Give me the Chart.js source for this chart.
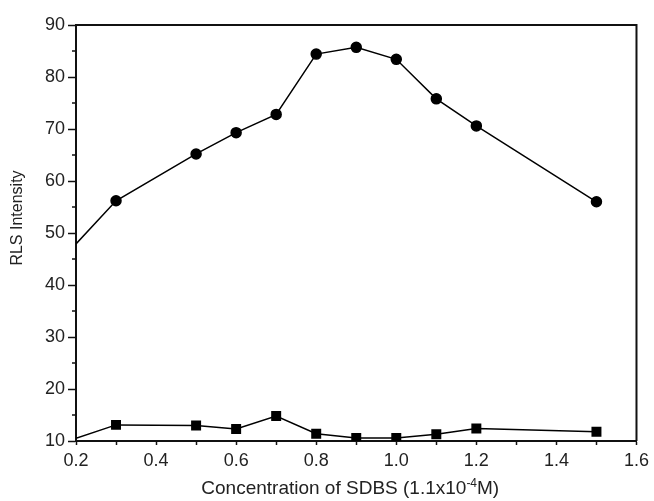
<!DOCTYPE html>
<html>
<head>
<meta charset="utf-8">
<script src="https://cdn.jsdelivr.net/npm/chart.js@4.4.1/dist/chart.umd.min.js"></script>
<style>
  html, body { margin: 0; padding: 0; background: #fff; }
  #c { display: block; }
</style>
</head>
<body>
<canvas id="c" width="654" height="501"></canvas>
<script>
// ---- data ----
const concentrations = [0.2, 0.3, 0.5, 0.6, 0.7, 0.8, 0.9, 1.0, 1.1, 1.2, 1.5];
const withSDBS      = [47.9, 56.2, 65.2, 69.3, 72.8, 84.4, 85.7, 83.4, 75.8, 70.6, 56.0];
const blank         = [10.5, 13.1, 13.0, 12.3, 14.8, 11.4, 10.6, 10.6, 11.3, 12.4, 11.8];
const yTicks = [10, 20, 30, 40, 50, 60, 70, 80, 90];
const xTickLabels = ['0.2', '0.4', '0.6', '0.8', '1.0', '1.2', '1.4', '1.6'];
const xTitleMain = 'Concentration of SDBS (1.1x10';
const xTitleSup = '-4';
const xTitleEnd = 'M)';
const yTitle = 'RLS Intensity';

const FONT = '"Liberation Sans", Arial, Helvetica, sans-serif';
const INK = '#111';

const toXY = (vals) => vals.map((v, i) => ({ x: concentrations[i], y: v }));

const framePlugin = {
  id: 'frame',
  afterDraw(chart) {
    const { ctx, chartArea: a, scales } = chart;
    ctx.save();
    // top and right frame lines
    ctx.strokeStyle = INK;
    ctx.lineWidth = 2;
    ctx.beginPath();
    ctx.moveTo(a.left, a.top);
    ctx.lineTo(a.right, a.top);
    ctx.lineTo(a.right, a.bottom);
    ctx.stroke();
    // minor ticks on y axis (midpoints between major ticks)
    ctx.lineWidth = 1.5;
    ctx.beginPath();
    for (let i = 0; i < yTicks.length - 1; i++) {
      const v = (yTicks[i] + yTicks[i + 1]) / 2;
      const py = scales.y.getPixelForValue(v);
      ctx.moveTo(a.left - 4, py);
      ctx.lineTo(a.left, py);
    }
    ctx.stroke();
    // y title
    ctx.fillStyle = '#222';
    ctx.font = '16px ' + FONT;
    ctx.textAlign = 'center';
    ctx.textBaseline = 'middle';
    ctx.translate(18, 218);
    ctx.rotate(-Math.PI / 2);
    ctx.fillText(yTitle, 0, 0);
    ctx.restore();

    // x title with superscript
    ctx.save();
    ctx.fillStyle = '#222';
    ctx.textBaseline = 'alphabetic';
    ctx.textAlign = 'left';
    const mainFont = '19px ' + FONT, supFont = '12px ' + FONT;
    ctx.font = mainFont;
    const w1 = ctx.measureText(xTitleMain).width;
    const w3 = ctx.measureText(xTitleEnd).width;
    ctx.font = supFont;
    const w2 = ctx.measureText(xTitleSup).width;
    const total = w1 + w2 + w3;
    const cx = (a.left + a.right) / 2 - 6;
    let x = cx - total / 2;
    const base = 494;
    ctx.font = mainFont;
    ctx.fillText(xTitleMain, x, base);
    x += w1;
    ctx.font = supFont;
    ctx.fillText(xTitleSup, x, base - 7);
    x += w2;
    ctx.font = mainFont;
    ctx.fillText(xTitleEnd, x, base);
    ctx.restore();
  }
};

new Chart(document.getElementById('c'), {
  type: 'line',
  data: {
    datasets: [
      {
        label: 'RLS with SDBS',
        data: toXY(withSDBS),
        borderColor: '#000',
        backgroundColor: '#000',
        borderWidth: 1.5,
        pointStyle: 'circle',
        pointRadius: (c) => (c.dataIndex === 0 ? 0 : 5),
        pointBackgroundColor: '#000',
        pointBorderColor: '#000',
        tension: 0,
        fill: false
      },
      {
        label: 'Blank',
        data: toXY(blank),
        borderColor: '#000',
        backgroundColor: '#000',
        borderWidth: 1.5,
        pointStyle: 'rect',
        pointRadius: (c) => (c.dataIndex === 0 ? 0 : 6),
        pointBackgroundColor: '#000',
        pointBorderColor: '#000',
        tension: 0,
        fill: false
      }
    ]
  },
  options: {
    responsive: false,
    animation: false,
    layout: { padding: { left: 0, right: 16, top: 25, bottom: 0 } },
    plugins: {
      legend: { display: false },
      tooltip: { enabled: false },
      title: { display: false }
    },
    scales: {
      x: {
        type: 'linear',
        min: 0.2,
        max: 1.6,
        afterFit(s) { s.height = 60; },
        afterBuildTicks(s) {
          const t = [];
          for (let i = 2; i <= 16; i++) t.push({ value: i / 10 });
          s.ticks = t;
        },
        ticks: {
          autoSkip: false,
          maxRotation: 0,
          padding: 5,
          color: '#222',
          font: { family: FONT, size: 18 },
          callback: (v) => {
            const k = Math.round(v * 10);
            return k % 2 === 0 ? xTickLabels[(k - 2) / 2] : '';
          }
        },
        grid: {
          display: true,
          drawOnChartArea: false,
          drawTicks: true,
          tickLength: 4,
          tickColor: INK,
          tickWidth: 1.5
        },
        border: { display: true, color: INK, width: 2 }
      },
      y: {
        min: 10,
        max: 90,
        afterFit(s) { s.width = 76; },
        afterBuildTicks(s) { s.ticks = yTicks.map(v => ({ value: v })); },
        ticks: {
          padding: 3,
          color: '#222',
          font: { family: FONT, size: 18 },
          callback: (v) => String(v)
        },
        grid: {
          display: true,
          drawOnChartArea: false,
          drawTicks: true,
          tickLength: 8,
          tickColor: INK,
          tickWidth: 1.5
        },
        border: { display: true, color: INK, width: 2 }
      }
    }
  },
  plugins: [framePlugin]
});
</script>
</body>
</html>
